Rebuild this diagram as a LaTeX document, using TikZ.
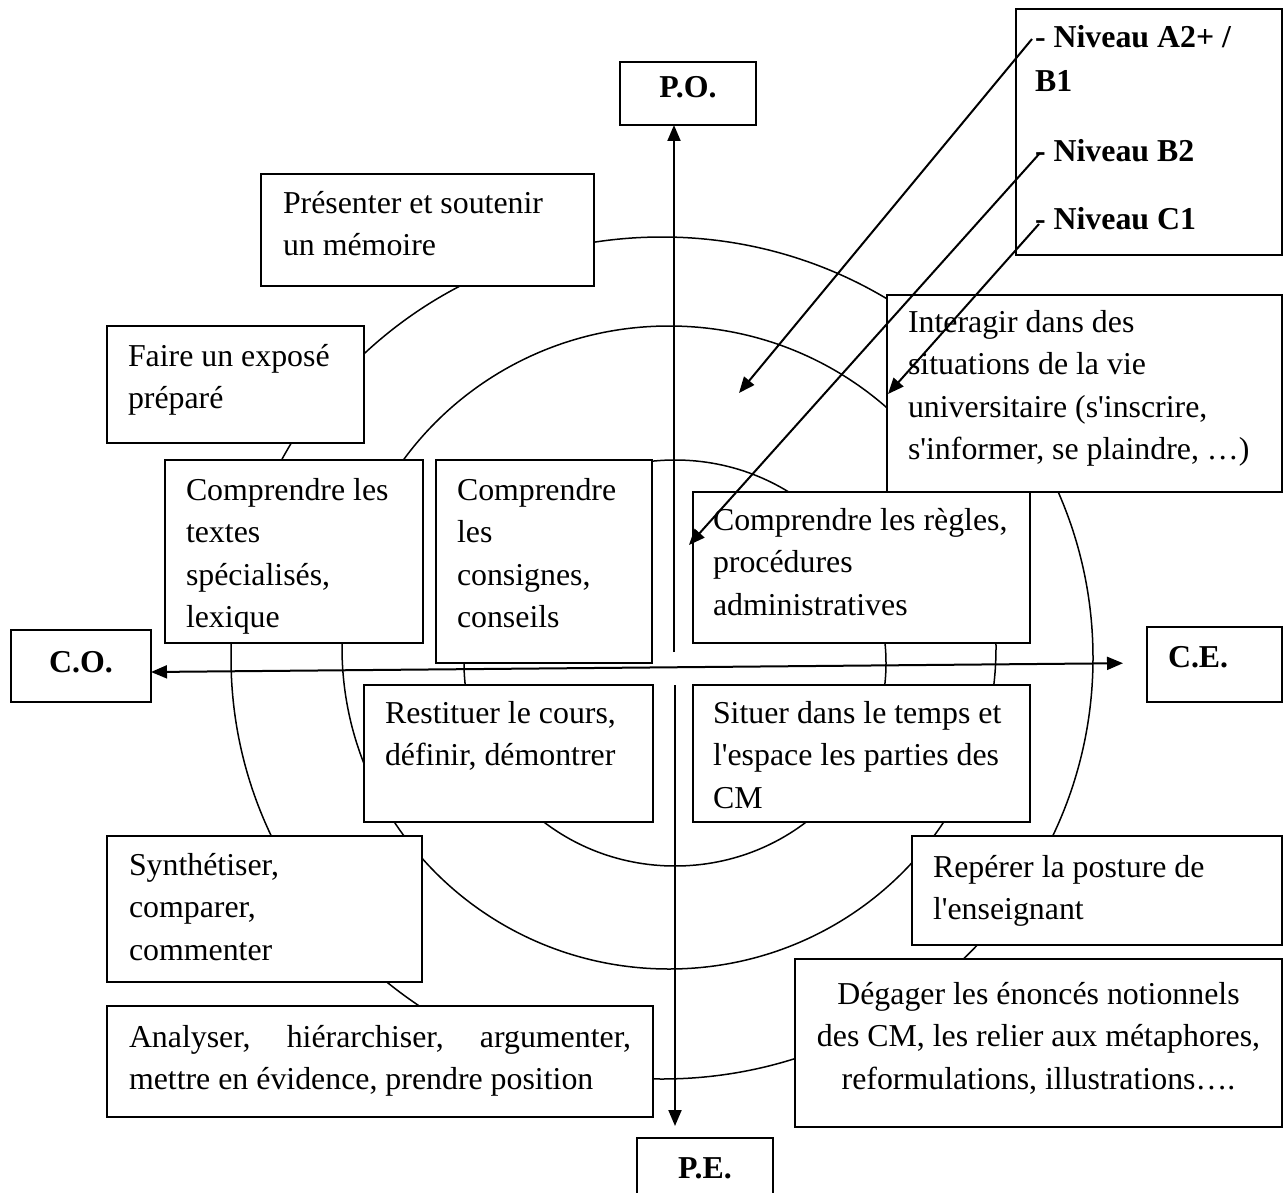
\documentclass[tikz,border=0pt]{standalone}
\usepackage{fontspec}
\setmainfont{Liberation Serif}[Ligatures=TeXOff]
\usetikzlibrary{arrows.meta}
\newcommand{\bodyfont}{\fontsize{31.85pt}{42.5pt}\selectfont\hyphenpenalty=10000 }
\begin{document}
\begin{tikzpicture}[x=1pt,y=-1pt,
  box/.style={draw, line width=1.7pt, fill=white, anchor=north west,
    inner xsep=21pt, inner ysep=0pt, outer sep=0pt, align=flush left,
    font=\bodyfont},
  bbox/.style={box, font=\bodyfont\bfseries},
  ring/.style={line width=1.5pt},
  tip/.tip={Triangle[length=16pt,width=13pt]},
  arr/.style={line width=2pt, -tip},
]
\useasboundingbox (0,0) rectangle (1284,1193);
% concentric rings
\draw[ring] (662,658) ellipse [x radius=431, y radius=421];
\draw[ring] (669,647.5) ellipse [x radius=327, y radius=321.5];
\draw[ring] (675,663) ellipse [x radius=211, y radius=203];

% boxes
\node[bbox, align=flush center, text width=94pt, text height=36pt, text depth=27pt] (po) at (620,62) {P.O.};
\node[bbox, inner xsep=19pt, text width=228pt, text height=39pt, text depth=207pt] (niv) at (1016,9)
  {- Niveau A2+ /\\[1.5pt] B1\\[27.5pt] - Niveau B2\\[25.5pt] - Niveau C1};
\node[box, inner xsep=22pt, text width=289pt, text height=39pt, text depth=73pt] (pres) at (261,174)
  {Présenter et soutenir\\ un mémoire};
\node[box, text width=215pt, text height=40pt, text depth=77pt] (expo) at (107,326)
  {Faire un exposé\\ préparé};
\node[box, text width=353pt, text height=37pt, text depth=160pt] (inter) at (887,295)
  {Interagir dans des\\ situations de la vie\\ \mbox{universitaire (s'inscrire,}\\ \mbox{s'informer, se plaindre, …)}};
\node[box, text width=216pt, text height=40pt, text depth=143pt] (textes) at (165,460)
  {\mbox{Comprendre les}\\ textes\\ spécialisés,\\ lexique};
\node[box, text width=174pt, text height=40pt, text depth=163pt] (consi) at (436,460)
  {Comprendre\\ les\\ consignes,\\ conseils};
\node[box, inner xsep=20pt, text width=297pt, text height=38pt, text depth=113pt] (regles) at (693,492)
  {\mbox{Comprendre les règles,}\\ procédures\\ administratives};
\node[bbox, align=flush center, text width=98pt, text height=42pt, text depth=30pt] (co) at (11,630) {C.O.};
\node[bbox, text width=93pt, text height=40pt, text depth=35pt] (ce) at (1147,627) {C.E.};
\node[box, text width=247pt, text height=38pt, text depth=99pt] (resti) at (364,685)
  {Restituer le cours,\\ définir, démontrer};
\node[box, inner xsep=20pt, text width=297pt, text height=38pt, text depth=99pt] (situer) at (693,685)
  {\mbox{Situer dans le temps et}\\ \mbox{l'espace les parties des}\\ CM};
\node[box, inner xsep=22pt, text width=271pt, text height=39pt, text depth=107pt] (synth) at (107,836)
  {Synthétiser,\\ comparer,\\ commenter};
\node[box, inner xsep=22pt, align=justify, text width=502pt, text height=41pt, text depth=70pt] (analy) at (107,1006)
  {Analyser, hiérarchiser, argumenter,\linebreak mettre en évidence, prendre position};
\node[box, text width=328pt, text height=41pt, text depth=68pt] (reper) at (912,836)
  {Repérer la posture de\\ l'enseignant};
\node[box, inner xsep=18pt, align=flush center, text width=451pt, text height=45pt, text depth=123pt] (degag) at (795,959)
  {Dégager les énoncés notionnels\\ \mbox{des CM, les relier aux métaphores,}\\ reformulations, illustrations….};
\node[bbox, align=flush center, text width=94pt, text height=40pt, text depth=30pt] (pe) at (637,1138) {P.E.};

% axes
\coordinate (vt) at (674,652);
\coordinate (vb) at (675,685);
\draw[arr] (vt) -- (vt |- po.south);
\draw[arr, shorten >=12pt] (vb) -- (vb |- pe.north);
\draw[line width=2pt, tip-tip, shorten >=24pt] ([yshift=-6pt]co.east) -- ([yshift=1.5pt]ce.west);

% level leaders
\coordinate (sA) at (1032,39);
\coordinate (tA) at (739,393);
\coordinate (sB) at (1040,153);
\coordinate (tB) at (689,545);
\coordinate (sC) at (1039,224);
\coordinate (tC) at (888,394);
\draw[arr] (sA) -- (tA);
\draw[arr] (sB) -- (tB);
\draw[arr] (sC) -- (tC);
\end{tikzpicture}
\end{document}
